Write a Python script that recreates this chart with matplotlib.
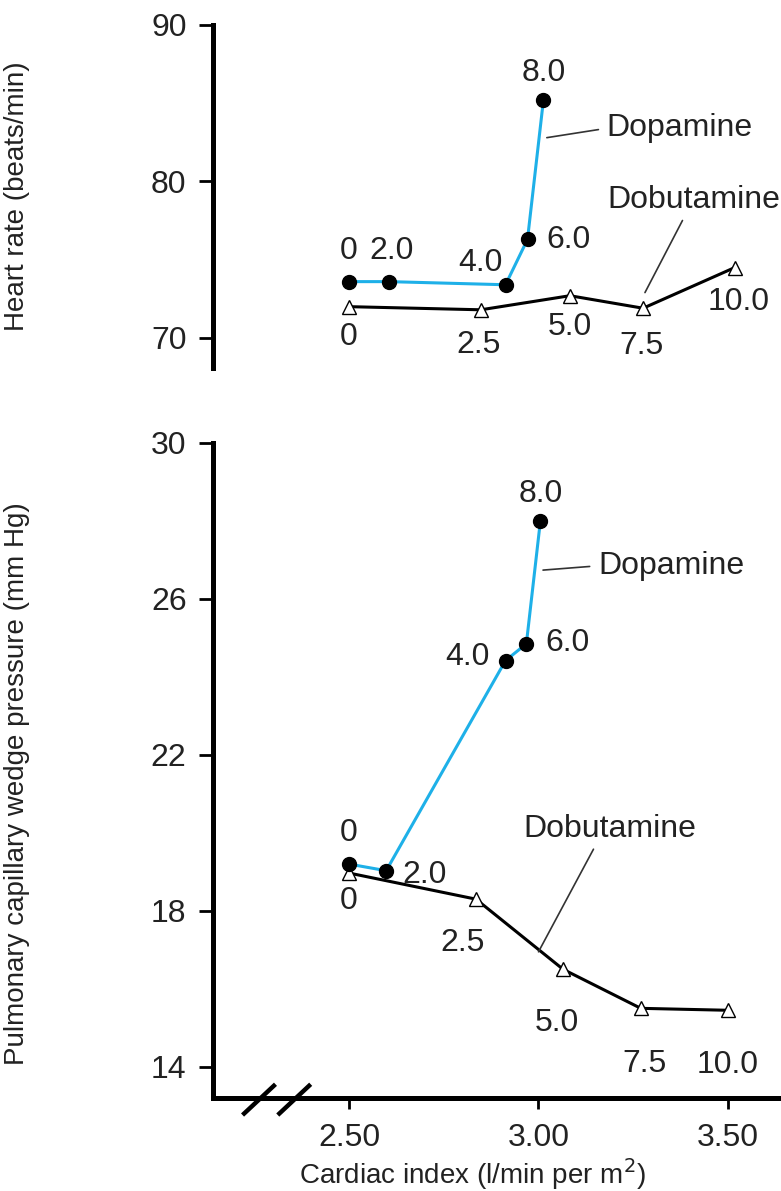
import matplotlib.pyplot as plt

plt.rcParams['font.family'] = ['Liberation Sans', 'DejaVu Sans']

# Cardiac index (x) per dose step
ci_dopa = [2.50, 2.605, 2.913, 2.971, 3.013]
ci_dobu_hr = [2.50, 2.848, 3.083, 3.276, 3.518]
ci_dopa_pw = [2.50, 2.598, 2.913, 2.968, 3.005]
ci_dobu_pw = [2.50, 2.835, 3.065, 3.270, 3.500]

hr_dopa = [73.6, 73.6, 73.4, 76.3, 85.2]
hr_dobu = [72.0, 71.8, 72.7, 71.9, 74.5]
pw_dopa = [19.2, 19.03, 24.42, 24.85, 28.0]
pw_dobu = [18.97, 18.3, 16.5, 15.5, 15.45]

dopa_doses = ['0', '2.0', '4.0', '6.0', '8.0']
dobu_doses = ['0', '2.5', '5.0', '7.5', '10.0']

hr_ticks = [70, 80, 90]
pw_ticks = [14, 18, 22, 26, 30]
ci_ticks = [2.50, 3.00, 3.50]

BLUE = '#1EB0E8'
FS = 23      # ticks and point labels
FS_LAB = 20  # axis titles

fig = plt.figure(figsize=(7.81, 11.91), dpi=100)
ax1 = fig.add_axes([213/781, 1 - 368/1191, 568/781, 343/1191])
ax2 = fig.add_axes([213/781, 1 - 1098/1191, 568/781, 655/1191])


def style(ax, bottom_spine):
    for s in ['top', 'right']:
        ax.spines[s].set_visible(False)
    ax.spines['left'].set_linewidth(3.6)
    ax.spines['bottom'].set_linewidth(3.6)
    ax.spines['bottom'].set_visible(bottom_spine)
    ax.tick_params(axis='y', length=10, width=2, pad=9, labelsize=FS,
                   labelcolor='#222222')
    ax.tick_params(axis='x', length=8, width=2, pad=10, labelsize=FS,
                   labelcolor='#222222')
    ax.set_xlim(2.141, 3.64)


def series(ax, x, y, color, marker, face):
    ax.plot(x, y, color=color, lw=2.2, zorder=2)
    ax.plot(x, y, ls='none', marker=marker, ms=10, mfc=face,
            mec='black', mew=1.0, zorder=3)


def dose_labels(ax, x, y, labels, offsets):
    for xi, yi, lab, off in zip(x, y, labels, offsets):
        ax.annotate(lab, (xi, yi), xytext=off, textcoords='offset pixels',
                    ha='center', va='center', fontsize=FS, color='#222222')


# ---- top panel: heart rate ----
style(ax1, False)
ax1.set_ylim(68.08, 90)
ax1.set_yticks(hr_ticks)
ax1.set_xticks([])
series(ax1, ci_dobu_hr, hr_dobu, 'black', '^', 'white')
series(ax1, ci_dopa, hr_dopa, BLUE, 'o', 'black')
dose_labels(ax1, ci_dopa, hr_dopa, dopa_doses,
            [(0, 31), (3, 31), (-25, 22), (41, -1), (0, 27)])
dose_labels(ax1, ci_dobu_hr, hr_dobu, dobu_doses,
            [(0, -30), (-2, -35), (0, -31), (-2, -38), (4, -34)])
ax1.annotate('Dopamine', xy=(3.022, 82.8), xytext=(3.18, 83.4),
             ha='left', va='center', fontsize=FS, color='#222222',
             arrowprops=dict(arrowstyle='-', color='#333333', lw=1.2,
                             relpos=(0, 0.5), shrinkA=4, shrinkB=0))
ax1.annotate('Dobutamine', xy=(3.281, 72.9), xytext=(3.41, 78.8),
             ha='center', va='center', fontsize=FS, color='#222222',
             arrowprops=dict(arrowstyle='-', color='#333333', lw=1.2,
                             relpos=(0.45, 0), shrinkA=2, shrinkB=0))
ax1.set_ylabel('Heart rate (beats/min)', fontsize=FS_LAB, color='#222222')
ax1.yaxis.set_label_coords(-0.322, 0.5)

# ---- bottom panel: wedge pressure ----
style(ax2, True)
ax2.set_ylim(13.2, 30)
ax2.set_yticks(pw_ticks)
ax2.set_xticks(ci_ticks)
ax2.set_xticklabels(['%.2f' % t for t in ci_ticks])
series(ax2, ci_dobu_pw, pw_dobu, 'black', '^', 'white')
series(ax2, ci_dopa_pw, pw_dopa, BLUE, 'o', 'black')
dose_labels(ax2, ci_dopa_pw, pw_dopa, dopa_doses,
            [(0, 31), (38, -4), (-38, 4), (41, 1), (0, 27)])
dose_labels(ax2, ci_dobu_pw, pw_dobu, dobu_doses,
            [(0, -28), (-13, -44), (-6, -54), (4, -56), (0, -55)])
ax2.annotate('Dopamine', xy=(3.012, 26.74), xytext=(3.157, 26.85),
             ha='left', va='center', fontsize=FS, color='#222222',
             arrowprops=dict(arrowstyle='-', color='#333333', lw=1.2,
                             relpos=(0, 0.5), shrinkA=4, shrinkB=0))
ax2.annotate('Dobutamine', xy=(3.0, 16.95), xytext=(3.189, 20.1),
             ha='center', va='center', fontsize=FS, color='#222222',
             arrowprops=dict(arrowstyle='-', color='#333333', lw=1.2,
                             relpos=(0.42, 0), shrinkA=2, shrinkB=0))
ax2.set_ylabel('Pulmonary capillary wedge pressure (mm Hg)', fontsize=FS_LAB,
               color='#222222')
ax2.yaxis.set_label_coords(-0.322, 0.48)
ax2.set_xlabel('Cardiac index (l/min per m$^2$)', fontsize=FS_LAB,
               color='#222222', va='center')
ax2.xaxis.set_label_coords(0.456, -0.116)

# axis break slashes on the x axis
for x0 in [0.052, 0.114]:
    ax2.plot([x0, x0 + 0.058], [-0.026, 0.021], transform=ax2.transAxes,
             color='black', lw=3.2, clip_on=False, solid_capstyle='butt')

fig.savefig('out.png', dpi=100)
